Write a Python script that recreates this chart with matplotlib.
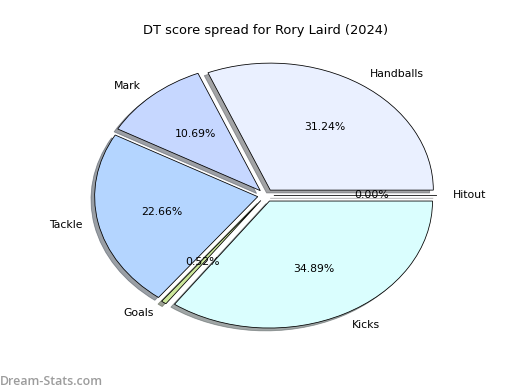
import matplotlib
matplotlib.use('Agg')
import matplotlib.pyplot as plt

# Datos del gráfico (porcentajes de puntos DT)
categorias = ['Hitout', 'Handballs', 'Mark', 'Tackle', 'Goals', 'Kicks']
porcentajes = [0.00, 31.24, 10.69, 22.66, 0.52, 34.89]
colores = ['#f0f0f0', '#eaf0ff', '#c6d7ff', '#b4d5ff', '#cde89c', '#dafefe']

titulo = 'DT score spread for Rory Laird (2024)'
marca = 'Dream-Stats.com'

fig = plt.figure(figsize=(6.4, 4.8), dpi=81.25)
ax = fig.add_axes([0.119, 0.092, 0.784, 0.814])

ax.pie(porcentajes, labels=categorias, colors=colores, autopct='%1.2f%%',
       explode=[0.05] * len(porcentajes), shadow=True, startangle=0,
       wedgeprops={'edgecolor': 'black', 'linewidth': 0.7},
       textprops={'fontsize': 9.6})
ax.set_aspect('auto')
ax.set_xlim(-1.25, 1.25)
ax.set_ylim(-1.25, 1.25)
ax.set_title(titulo, fontsize=11.5, pad=1)

# Marca de agua
fig.text(0.0, 0.006, marca, fontsize=11, color='#9c9c9c', fontweight='semibold',
         family='Open Sans', ha='left', va='bottom')

plt.savefig('out.png', dpi=81.25)
